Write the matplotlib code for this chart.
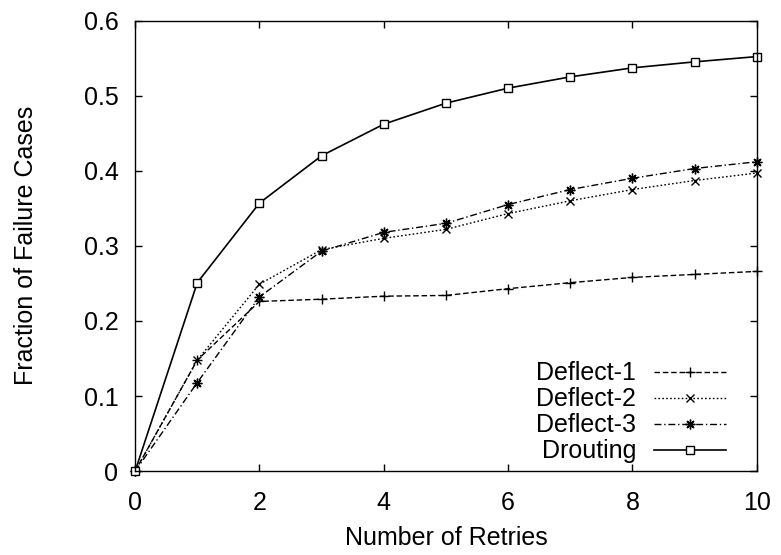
import matplotlib
matplotlib.use("Agg")
import matplotlib.pyplot as plt

retries = [0, 1, 2, 3, 4, 5, 6, 7, 8, 9, 10]
deflect1 = [0, 0.148, 0.226, 0.229, 0.233, 0.234, 0.243, 0.251, 0.258, 0.262, 0.266]
deflect2 = [0, 0.148, 0.249, 0.295, 0.310, 0.322, 0.343, 0.360, 0.375, 0.387, 0.397]
deflect3 = [0, 0.118, 0.232, 0.293, 0.318, 0.330, 0.355, 0.375, 0.390, 0.403, 0.412]
drouting = [0, 0.251, 0.357, 0.420, 0.462, 0.490, 0.510, 0.525, 0.537, 0.545, 0.552]

plt.rcParams["font.family"] = ["Liberation Sans", "DejaVu Sans"]
plt.rcParams["font.size"] = 18

fig = plt.figure(figsize=(7.81, 5.55), dpi=100)
ax = fig.add_axes([0.173, 0.151, 0.796, 0.812])

ax.plot(retries, deflect1, color="black", lw=1, ls=(0, (4, 2)), marker="+", ms=7, mew=1,
        clip_on=False, label="Deflect-1")
ax.plot(retries, deflect2, color="black", lw=1, ls=(0, (1.2, 1.6)), marker="x", ms=6, mew=1,
        clip_on=False, label="Deflect-2")
ax.plot(retries, deflect3, color="black", lw=1, ls=(0, (5, 2, 1, 2)), marker=(8, 2, 0), ms=7, mew=1,
        clip_on=False, label="Deflect-3")
ax.plot(retries, drouting, color="black", lw=1.2, ls="-", marker="s", ms=6, mfc="white", mew=1,
        clip_on=False, label="Drouting")

ax.set_xlim(0, 10)
ax.set_ylim(0, 0.6)
ax.set_xticks(range(0, 11, 2))
ax.set_yticks([0, 0.1, 0.2, 0.3, 0.4, 0.5, 0.6])
ax.set_yticklabels(["0", "0.1", "0.2", "0.3", "0.4", "0.5", "0.6"])
ax.tick_params(direction="in", top=True, right=True, length=5, width=1)
ax.tick_params(axis="y", pad=12)
ax.tick_params(axis="x", pad=14)
for s in ax.spines.values():
    s.set_linewidth(1)

ax.set_xlabel("Number of Retries", va="center")
ax.xaxis.set_label_coords(0.5, -0.149)
ax.set_ylabel("Fraction of Failure Cases", va="center")
ax.yaxis.set_label_coords(-0.176, 0.5)

ax.legend(loc="lower right", bbox_to_anchor=(0.967, -0.005), frameon=False, markerfirst=False,
          handlelength=2.9, labelspacing=0.08, handletextpad=0.7, borderaxespad=0.0)

fig.savefig("out.png", dpi=100)
